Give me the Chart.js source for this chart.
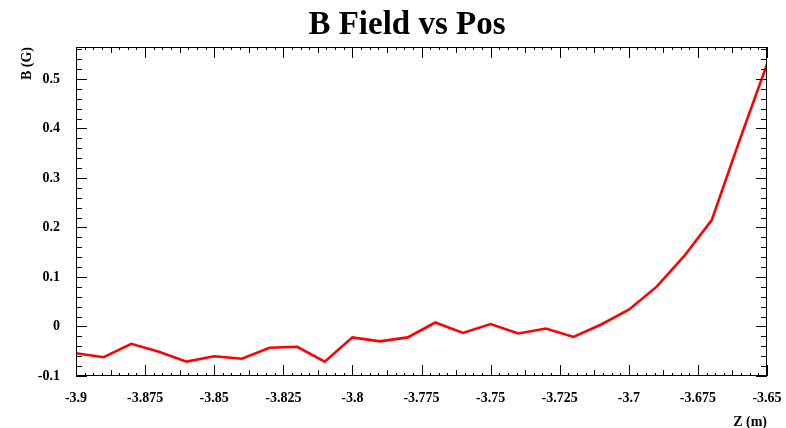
<!DOCTYPE html>
<html>
<head>
<meta charset="utf-8">
<script src="https://cdn.jsdelivr.net/npm/chart.js@4"></script>
<style>
    html, body { margin: 0; padding: 0; background: #fff; }
    #wrap { width: 786px; height: 428px; }
</style>
</head>
<body>
<div id="wrap"><canvas id="bChart" width="786" height="428"></canvas></div>
<script>
// Values
const zPos = [-3.90, -3.89, -3.88, -3.87, -3.86, -3.85, -3.84, -3.83, -3.82, -3.81,
              -3.80, -3.79, -3.78, -3.77, -3.76, -3.75, -3.74, -3.73, -3.72, -3.71,
              -3.70, -3.69, -3.68, -3.67, -3.66, -3.65];
const bField = [-0.054, -0.062, -0.035, -0.051, -0.071, -0.060, -0.065, -0.043, -0.041, -0.071,
                -0.022, -0.030, -0.022, 0.008, -0.013, 0.005, -0.014, -0.004, -0.021, 0.004,
                0.034, 0.080, 0.142, 0.215, 0.375, 0.530];

const xTickValues = [-3.9, -3.875, -3.85, -3.825, -3.8, -3.775, -3.75, -3.725, -3.7, -3.675, -3.65];
const xTickLabels = ['-3.9', '-3.875', '-3.85', '-3.825', '-3.8', '-3.775', '-3.75', '-3.725', '-3.7', '-3.675', '-3.65'];
const yTickValues = [-0.1, 0, 0.1, 0.2, 0.3, 0.4, 0.5];
const yTickLabels = ['-0.1', '0', '0.1', '0.2', '0.3', '0.4', '0.5'];

const chartTitle = 'B Field vs Pos';
const xTitle = 'Z (m)';
const yTitle = 'B (G)';

const serif = "'Liberation Serif', 'Times New Roman', serif";

// ROOT-style frame with inward ticks on all four sides
const rootFrame = {
    id: 'rootFrame',
    afterDatasetsDraw(chart) {
        const ctx = chart.ctx;
        const area = chart.chartArea;
        const xs = chart.scales.x;
        const ys = chart.scales.y;

        ctx.save();
        ctx.strokeStyle = '#000';
        ctx.lineWidth = 1;
        ctx.strokeRect(area.left + 0.5, area.top + 0.5, area.right - area.left - 1, area.bottom - area.top - 1);

        ctx.beginPath();
        // x ticks: major every 0.025, 8 subdivisions
        const xStep = 0.025 / 8;
        for (let i = 0; i <= 80; i++) {
            const v = xs.min + i * xStep;
            const px = Math.round(xs.getPixelForValue(v)) + 0.5;
            let len = 3;
            if (i % 8 === 0) len = 11;
            else if (i % 4 === 0) len = 6;
            ctx.moveTo(px, area.bottom);
            ctx.lineTo(px, area.bottom - len);
            ctx.moveTo(px, area.top);
            ctx.lineTo(px, area.top + len);
        }
        // y ticks: major every 0.1, 5 subdivisions
        for (let i = 0; i <= 40; i++) {
            const v = -0.1 + i * 0.02;
            if (v > ys.max + 1e-9) break;
            const py = Math.round(ys.getPixelForValue(v)) + 0.5;
            const len = i % 5 === 0 ? 11 : 6;
            ctx.moveTo(area.left, py);
            ctx.lineTo(area.left + len, py);
            ctx.moveTo(area.right, py);
            ctx.lineTo(area.right - len, py);
        }
        ctx.stroke();

        // main title
        ctx.fillStyle = '#000';
        ctx.font = 'bold 33px ' + serif;
        ctx.textAlign = 'center';
        ctx.textBaseline = 'alphabetic';
        ctx.fillText(chartTitle, 407, 34);
        ctx.restore();
    }
};

function buildChart() {
    const ctx = document.getElementById('bChart').getContext('2d');
    const points = zPos.map((z, i) => ({ x: z, y: bField[i] }));

    new Chart(ctx, {
        type: 'scatter',
        data: {
            datasets: [{
                data: points,
                showLine: true,
                borderColor: '#ff0000',
                borderWidth: 2.6,
                pointRadius: 0,
                tension: 0,
                fill: false
            }]
        },
        options: {
            responsive: false,
            animation: false,
            layout: { padding: { top: 47, right: 19, left: 0, bottom: 0 } },
            plugins: {
                legend: { display: false },
                tooltip: { enabled: false },
                title: { display: false }
            },
            scales: {
                x: {
                    type: 'linear',
                    min: -3.9,
                    max: -3.65,
                    grid: { display: false, drawTicks: false },
                    border: { display: false },
                    afterBuildTicks: (scale) => { scale.ticks = xTickValues.map(v => ({ value: v })); },
                    afterFit: (scale) => {
                        scale.height = 52;
                        scale.paddingLeft = 0;
                        scale.paddingRight = 0;
                    },
                    ticks: {
                        padding: 14,
                        maxRotation: 0,
                        autoSkip: false,
                        color: '#000',
                        font: { family: serif, size: 14, weight: 'bold' },
                        callback: (value, index) => xTickLabels[index]
                    },
                    title: {
                        display: true,
                        text: xTitle,
                        align: 'end',
                        color: '#000',
                        padding: 0,
                        font: { family: serif, size: 14, weight: 'bold', lineHeight: 0.8 }
                    }
                },
                y: {
                    type: 'linear',
                    min: -0.1,
                    max: 0.5646,
                    grid: { display: false, drawTicks: false },
                    border: { display: false },
                    afterBuildTicks: (scale) => { scale.ticks = yTickValues.map(v => ({ value: v })); },
                    afterFit: (scale) => {
                        scale.width = 76;
                        scale.paddingTop = 0;
                        scale.paddingBottom = 0;
                    },
                    ticks: {
                        padding: 16,
                        autoSkip: false,
                        color: '#000',
                        font: { family: serif, size: 14, weight: 'bold' },
                        callback: (value, index) => yTickLabels[index]
                    },
                    title: {
                        display: true,
                        text: yTitle,
                        align: 'end',
                        color: '#000',
                        padding: { top: 22, bottom: 0 },
                        font: { family: serif, size: 14, weight: 'bold', lineHeight: 0.8 }
                    }
                }
            }
        },
        plugins: [rootFrame]
    });
}

buildChart();
</script>
</body>
</html>
